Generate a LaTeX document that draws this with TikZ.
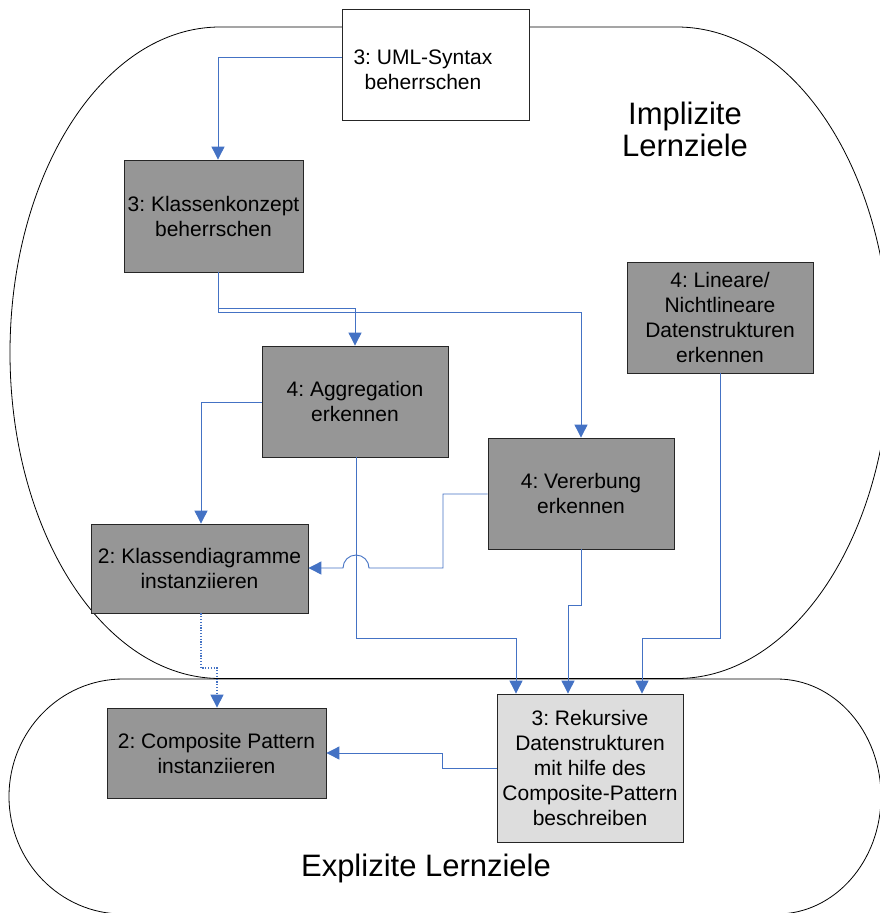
\documentclass[tikz,border=0pt]{standalone}
\usepackage{fontspec}
\setmainfont{Liberation Sans}
\usetikzlibrary{arrows.meta,calc}
\definecolor{arrowblue}{HTML}{4472C4}
\definecolor{boxgray}{HTML}{969696}
\definecolor{lightbox}{HTML}{DDDDDD}
\frenchspacing
\tikzset{
  boxtext/.style={font=\fontsize{21}{25}\selectfont, align=center, inner sep=0pt},
  box/.style={boxtext, draw=black!85, line width=0.8pt, fill=boxgray},
  region/.style={draw=black, line width=0.8pt},
  regiontext/.style={font=\fontsize{31}{32}\selectfont, align=center, inner sep=0pt},
  conn/.style={draw=arrowblue, line width=0.9pt, -{Triangle[length=13pt,width=13pt,color=arrowblue]}},
  dotconn/.style={conn, line width=1.1pt, dash pattern=on 1.2pt off 1.6pt},
}
\begin{document}
\begin{tikzpicture}[x=1pt,y=-1pt]
\clip (0,0) rectangle (880,913);
\fill[white] (0,0) rectangle (880,913);
% regions
\draw[region] (220,27) -- (677,27)
  arc[start angle=90,end angle=-90,x radius=213pt,y radius=325.75pt]
  -- (220,678.5)
  arc[start angle=270,end angle=90,x radius=210pt,y radius=325.75pt] -- cycle;
\draw[region] (123,679) -- (777,679)
  arc[start angle=90,end angle=-90,x radius=104pt,y radius=117.5pt]
  -- (123,914)
  arc[start angle=270,end angle=90,x radius=114pt,y radius=117.5pt] -- cycle;
\node[regiontext] (impl) at (685,129) {Implizite\\Lernziele};
\node[regiontext] (expl) at (426,868) {Explizite Lernziele};
% boxes
\node[box, fill=white, minimum width=187pt, minimum height=111pt,
  label={[boxtext, xshift=-12.5pt, yshift=-5.5pt]center:{3: UML-Syntax\\beherrschen}}]
  (uml) at (435.5,64.5) {};
\node[box, minimum width=179pt, minimum height=112pt] (kk) at (213.5,216) {3: Klassenkonzept\\beherrschen};
\node[box, minimum width=186pt, minimum height=111pt] (lin) at (720,317.5) {4: Lineare/\\Nichtlineare\\Datenstrukturen\\erkennen};
\node[box, minimum width=186pt, minimum height=111pt] (agg) at (355,401.5) {4: Aggregation\\erkennen};
\node[box, minimum width=186pt, minimum height=111pt] (ver) at (581,493.5) {4: Vererbung\\erkennen};
\node[box, minimum width=217pt, minimum height=89pt] (kd) at (199.5,568.5) {2: Klassendiagramme\\instanziieren};
\node[box, minimum width=219pt, minimum height=90pt] (comp) at (216.5,753) {2: Composite Pattern\\instanziieren};
\node[box, fill=lightbox, minimum width=186pt, minimum height=148pt] (rek) at (590,768) {3: Rekursive\\Datenstrukturen\\mit hilfe des\\Composite-Pattern\\beschreiben};
% connectors
\draw[conn] (uml.west |- 0,57) -| (kk.north -| 218,0);
\draw[conn] (kk.south -| 218,0) -- (218,308) -| (agg.north -| 355,0);
\draw[conn] (kk.south -| 218,0) -- (218,312) -| (ver.north);
\draw[conn] (agg.west |- 0,402) -| (kd.north -| 201,0);
\draw[conn] (ver.west |- 0,494) -| (443,568) -- (369,568)
  arc[start angle=0,end angle=180,radius=13pt] -- (kd.east |- 0,568);
\draw[conn] (agg.south -| 356,0) |- (516,638) -- (rek.north -| 516,0);
\draw[conn] (ver.south) -- (581,605) -| (rek.north -| 568,0);
\draw[conn] (lin.south) -- (720,638) -| (rek.north -| 642,0);
\draw[dotconn] (kd.south -| 201,0) -- (201,668) -| (comp.north -| 217,0);
\draw[conn] (rek.west) -| (442,753) -- (comp.east |- 0,753);
\end{tikzpicture}
\end{document}
